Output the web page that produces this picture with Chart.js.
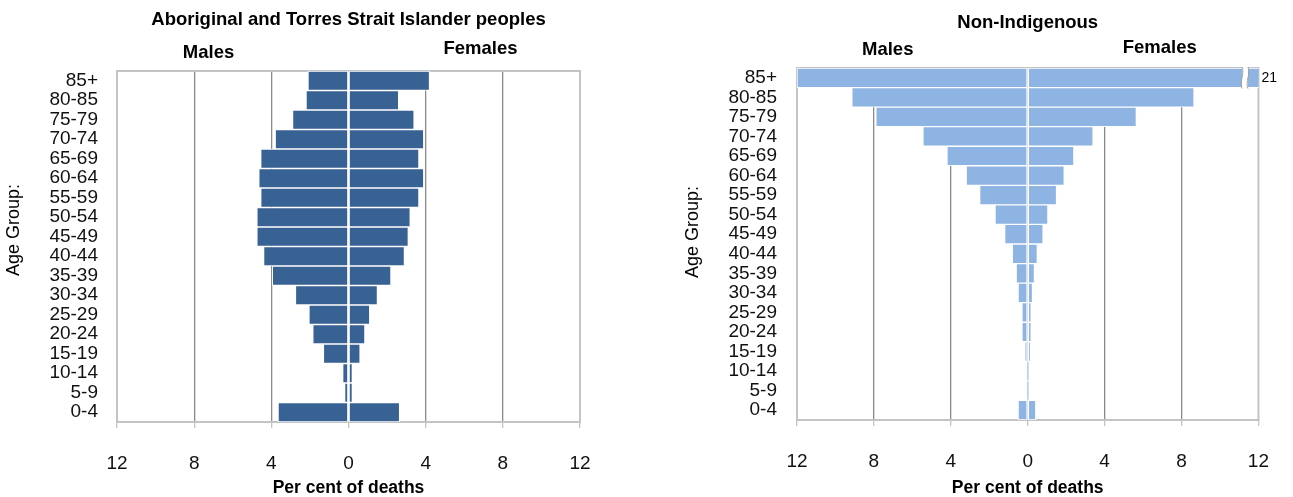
<!DOCTYPE html>
<html>
<head>
<meta charset="utf-8">
<title>Per cent of deaths by age group</title>
<script src="https://cdn.jsdelivr.net/npm/chart.js@4.4.1/dist/chart.umd.min.js"></script>
<style>
  html, body { margin: 0; padding: 0; background: #fff; }
  #wrap { position: relative; width: 1293px; height: 497px; }
  .panel { position: absolute; top: 0; height: 497px; }
  #left { left: 0; width: 640px; }
  #right { left: 640px; width: 653px; }
</style>
</head>
<body>
<div id="wrap">
  <div class="panel" id="left"><canvas id="chart-indig"></canvas></div>
  <div class="panel" id="right"><canvas id="chart-nonindig"></canvas></div>
</div>
<script>
"use strict";

// age groups, top row first
var ageGroups = ['85+', '80-85', '75-79', '70-74', '65-69', '60-64', '55-59', '50-54', '45-49',
                 '40-44', '35-39', '30-34', '25-29', '20-24', '15-19', '10-14', '5-9', '0-4'];

// per cent of deaths (males are drawn to the left)
var indigMales     = [2.1, 2.2, 2.9, 3.8, 4.55, 4.65, 4.55, 4.75, 4.75, 4.4, 3.95, 2.75, 2.05, 1.85, 1.3, 0.3, 0.2, 3.65];
var indigFemales   = [4.2, 2.6, 3.4, 3.9, 3.65, 3.9, 3.65, 3.2, 3.1, 2.9, 2.2, 1.5, 1.1, 0.85, 0.6, 0.2, 0.2, 2.65];
var nonIndigMales   = [12, 9.15, 7.9, 5.45, 4.2, 3.2, 2.5, 1.7, 1.2, 0.8, 0.6, 0.5, 0.3, 0.3, 0.15, 0.02, 0.02, 0.5];
var nonIndigFemales = [21, 8.65, 5.65, 3.4, 2.4, 1.9, 1.5, 1.05, 0.8, 0.5, 0.35, 0.25, 0.18, 0.18, 0.15, 0.02, 0.02, 0.42];

// x axis tick values (shown without sign)
var xTicks = [-12, -8, -4, 0, 4, 8, 12];

var FONT = '"Liberation Sans", Arial, sans-serif';

// titles, Males / Females headers and axis titles
var panelText = {
	id: 'panelText',
	afterDraw: function(chart, args, o) {
		var ctx = chart.ctx;
		var zero = chart.scales.x.getPixelForValue(0);
		ctx.save();
		ctx.fillStyle = '#000';
		ctx.textAlign = 'center';
		ctx.textBaseline = 'middle';
		ctx.font = 'bold 18.5px ' + FONT;
		ctx.fillText(o.title, zero, o.titleY);
		ctx.fillText('Males', zero - 140, o.malesY);
		ctx.fillText('Females', zero + 132, o.femalesY);
		ctx.font = 'bold 17.5px ' + FONT;
		ctx.fillText('Per cent of deaths', zero, 488);
		ctx.translate(o.axisTitleX, o.axisTitleY);
		ctx.rotate(-Math.PI / 2);
		ctx.font = '18px ' + FONT;
		ctx.fillText('Age Group:', 0, 0);
		ctx.restore();
	}
};

// light grey box round the plot area
var plotFrame = {
	id: 'plotFrame',
	beforeDatasetsDraw: function(chart) {
		var a = chart.chartArea, ctx = chart.ctx;
		ctx.save();
		ctx.strokeStyle = '#c4c4c4';
		ctx.lineWidth = 2;
		ctx.strokeRect(a.left, a.top, a.right - a.left, a.bottom - a.top);
		ctx.restore();
	}
};

// broken bar for values running off the axis
var axisBreak = {
	id: 'axisBreak',
	afterDatasetsDraw: function(chart, args, o) {
		if (!o.enabled) return;
		var ctx = chart.ctx;
		var bar = chart.getDatasetMeta(o.datasetIndex).data[o.index];
		var p = bar.getProps(['y', 'height'], true);
		var x = chart.scales.x.getPixelForValue(o.at);
		var top = p.y - p.height / 2 - 1, bottom = p.y + p.height / 2 + 1;
		var h = bottom - top;
		ctx.save();
		ctx.fillStyle = '#fff';
		ctx.fillRect(x - 3, top, 6, h);
		ctx.strokeStyle = '#a0a0a0';
		ctx.lineWidth = 1;
		[-3, 3].forEach(function(off) {
			ctx.beginPath();
			ctx.moveTo(x + off, top);
			ctx.bezierCurveTo(x + off + 3, top + h / 3, x + off - 3, top + 2 * h / 3, x + off, bottom);
			ctx.stroke();
		});
		ctx.fillStyle = '#000';
		ctx.font = '14px ' + FONT;
		ctx.textAlign = 'left';
		ctx.textBaseline = 'middle';
		var value = chart.data.datasets[o.datasetIndex].data[o.index];
		ctx.fillText(String(value), chart.chartArea.right + 3, p.y);
		ctx.restore();
	}
};

function negate(arr) {
	return arr.map(function(v) { return -v; });
}

function makePyramid(canvasId, s) {
	var ctx = document.getElementById(canvasId).getContext('2d');
	return new Chart(ctx, {
		type: 'bar',
		data: {
			labels: ageGroups,
			datasets: [{
				label: 'Males',
				data: negate(s.males),
				backgroundColor: s.color,
				borderColor: '#ffffff',
				borderWidth: 1,
				borderSkipped: false,
				clip: 0
			}, {
				label: 'Females',
				data: s.females,
				backgroundColor: s.color,
				borderColor: '#ffffff',
				borderWidth: 1,
				borderSkipped: false,
				clip: 0
			}]
		},
		options: {
			indexAxis: 'y',
			responsive: true,
			maintainAspectRatio: false,
			animation: false,
			devicePixelRatio: 1,
			layout: { padding: { top: s.top, right: s.right, left: 0, bottom: 0 } },
			plugins: {
				legend: { display: false },
				tooltip: { enabled: false },
				panelText: s.text,
				axisBreak: s.brk || { enabled: false }
			},
			datasets: { bar: { barPercentage: 1, categoryPercentage: 1 } },
			scales: {
				x: {
					stacked: true,
					min: -12,
					max: 12,
					afterBuildTicks: function(scale) {
						scale.ticks = xTicks.map(function(v) { return { value: v }; });
					},
					afterFit: function(scale) { scale.height = s.xHeight; },
					grid: {
						color: function(c) {
							var v = c.tick ? c.tick.value : 0;
							if (Math.abs(v) === 12) return 'rgba(0,0,0,0)';
							if (v === 0) return s.zeroGrid;
							return '#8a8a8a';
						},
						lineWidth: 1.3,
						tickColor: '#c4c4c4',
						tickLength: 6,
						drawTicks: true
					},
					border: { display: true, color: '#c4c4c4', width: 2 },
					ticks: {
						padding: 24,
						color: '#111',
						font: { family: FONT, size: 19 },
						callback: function(v) { return Math.abs(v); }
					}
				},
				y: {
					stacked: true,
					afterFit: function(scale) { scale.width = s.yWidth; },
					grid: { display: false },
					border: { display: false },
					ticks: {
						padding: s.yPad,
						color: '#111',
						autoSkip: false,
						font: { family: FONT, size: 19 }
					}
				}
			}
		},
		plugins: [plotFrame, panelText, axisBreak]
	});
}

makePyramid('chart-indig', {
	males: indigMales,
	females: indigFemales,
	color: '#386194',
	zeroGrid: '#ffffff',
	top: 71, right: 60, yWidth: 117, xHeight: 75, yPad: 11,
	text: {
		title: 'Aboriginal and Torres Strait Islander peoples',
		titleY: 20, malesY: 53, femalesY: 49,
		axisTitleX: 14, axisTitleY: 230
	}
});

makePyramid('chart-nonindig', {
	males: nonIndigMales,
	females: nonIndigFemales,
	color: '#8eb4e3',
	zeroGrid: '#e0e0e0',
	top: 68, right: 29, yWidth: 157, xHeight: 77, yPad: 12,
	text: {
		title: 'Non-Indigenous',
		titleY: 23, malesY: 50, femalesY: 48,
		axisTitleX: 53, axisTitleY: 232
	},
	brk: { enabled: true, datasetIndex: 1, index: 0, at: 11.3 }
});
</script>
</body>
</html>
